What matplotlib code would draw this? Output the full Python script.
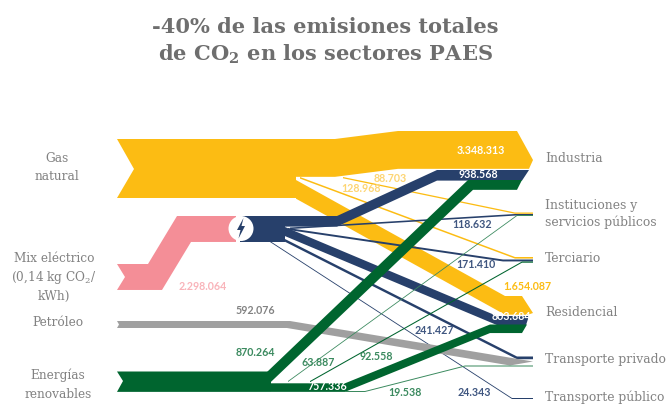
import matplotlib
matplotlib.use('Agg')
import matplotlib.pyplot as plt
from matplotlib.patches import Polygon, Circle

# values per source -> sector
sectors = ['Industria', 'Instituciones y\nservicios públicos', 'Terciario', 'Residencial',
           'Transporte privado', 'Transporte público']
gas = [3348313, 88703, 128968, 1654087]
mix = [938568, 118632, 171410, 803684, 241427, 24343]
petroleo = [592076]
renovables = [870264, 63887, 92558, 757336, 19538]
mix_total = 2298064

YELLOW = '#FCBC13'
PALE = '#FDD574'
PINK = '#F48E97'
NAVY = '#27406B'
NAVY_T = '#3F5680'
GREY = '#A0A0A0'
GREEN = '#00652F'
GREEN_T = '#3B8A5F'
TEXT = '#828282'
TITLE = '#6E6E6E'

px_per_unit = 11.3 / 1e6  # band thickness in pixels

plt.rcParams['mathtext.default'] = 'regular'

fig = plt.figure(figsize=(6.68, 4.05), dpi=100)
ax = fig.add_axes([0, 0, 1, 1])
ax.set_xlim(0, 668)
ax.set_ylim(405, 0)
ax.axis('off')


# route = (x, y, dx) on the upper edge, lower edge sits at (x + dx, y + width)
def band(value, route, color, tip=None, notch=None, min_width=0.0, zorder=2):
    w = max(value * px_per_unit, min_width)
    upper = [(x, y) for x, y, dx in route]
    lower = [(x + dx, y + w) for x, y, dx in route]
    pts = upper + (tip or []) + lower[::-1] + (notch or [])
    ax.add_patch(Polygon(pts, closed=True, facecolor=color, edgecolor='none', zorder=zorder))


# gas natural
band(sum(gas), [(117, 139, 0), (296, 139, 0)], YELLOW, notch=[(134, 169)])
band(gas[0], [(296, 139, 0), (335, 139, 0), (398, 131, 0), (517, 131, 12)], YELLOW, tip=[(533, 160)])
band(gas[1], [(343, 177, 0), (515, 212.5, 0), (533, 212.5, 0)], YELLOW, min_width=1.3)
band(gas[2], [(300, 177, 0), (515, 257, 0), (533, 257, 0)], YELLOW, min_width=1.6)
band(gas[3], [(296, 180, 0), (505, 296, 0), (522, 296, 6)], YELLOW, tip=[(533, 313)])

# mix electrico
band(mix_total, [(117, 264, 0), (148, 264, 14), (177, 216, 14), (236, 216, 0)], PINK, notch=[(125, 277)])
band(mix_total, [(240, 216, 0), (285, 216, 0)], NAVY, zorder=3)
band(mix[0], [(285, 216, 0), (337, 216, 0), (437, 170, 0), (529, 170, -7)], NAVY, zorder=3)
band(mix[1], [(290, 227.5, 0), (515, 214, 0), (533, 214, 0)], NAVY, min_width=1.6, zorder=3)
band(mix[2], [(288, 228, 0), (503, 259.5, 0), (533, 259.5, 0)], NAVY, zorder=3)
band(mix[3], [(285, 227, 0), (497, 316, 0), (529, 316, -3)], NAVY, zorder=3)
band(mix[4], [(283, 238, 0), (517, 356.5, 0), (533, 356.5, 0)], NAVY, zorder=3)
band(mix[5], [(270, 241, 0), (512, 398, 0), (533, 398, 0)], NAVY, min_width=1.0, zorder=3)

# petroleo
band(petroleo[0], [(117, 321, 0), (290, 321, -3), (515, 358.5, -5)], GREY,
     tip=[(533, 361.5)], notch=[(119, 324.5)], min_width=7.0, zorder=4)

# energias renovables
band(sum(renovables), [(117, 371.5, 0), (271, 371.5, 0)], GREEN, notch=[(123, 381)], zorder=5)
band(renovables[0], [(267, 372, 4), (468, 180, 5), (522, 180, -5)], GREEN, zorder=5)
band(renovables[1], [(288, 381, 0), (517, 215, 0), (533, 215, 0)], GREEN_T, min_width=1.0, zorder=5)
band(renovables[2], [(310, 381, 0), (522, 261.5, 0), (533, 261.5, 0)], GREEN, min_width=1.2, zorder=5)
band(renovables[3], [(271, 383.3, 0), (345, 383.3, 0), (490, 324.5, 0), (527, 324.5, -5)], GREEN, zorder=5)
band(renovables[4], [(345, 391, 0), (365, 391, 0), (465, 365.5, 0), (533, 365.5, 0)], GREEN_T,
     min_width=1.0, zorder=5)

# plug icon
ax.add_patch(Circle((241, 228.5), 12.5, facecolor='white', edgecolor='none', zorder=6))
ax.add_patch(Polygon([(243.5, 218), (237, 230), (240.5, 230), (238.5, 238.5), (245, 226), (241.5, 226)],
                     closed=True, facecolor=NAVY, edgecolor='none', zorder=7))

# title
ax.text(325, 27, '-40% de las emisiones totales', ha='center', va='center', fontsize=15.1,
        family='DejaVu Serif', fontweight='bold', color=TITLE)
ax.text(325, 54, 'de CO$_{2}$ en los sectores PAES', ha='center', va='center', fontsize=15.1,
        family='DejaVu Serif', fontweight='bold', color=TITLE)

# source labels
for txt, x, y in [('Gas', 57, 158), ('natural', 57, 177), ('Mix eléctrico', 54, 259),
                  ('(0,14 kg CO$_{2}$/', 54, 278), ('kWh)', 54, 296), ('Petróleo', 58, 323),
                  ('Energías', 58, 375), ('renovables', 58, 394)]:
    ax.text(x, y, txt, ha='center', va='center', fontsize=8.7, family='DejaVu Serif', color=TEXT)

# sector labels
for txt, y in zip(sectors, [159, 214, 259, 312, 359, 397]):
    ax.text(545, y, txt, ha='left', va='center', fontsize=8.9, family='DejaVu Serif',
            color=TEXT, linespacing=1.25, zorder=8)


def fmt(v):
    return f'{v:,}'.replace(',', '.')


# value labels
for v, x, y, col in [(gas[0], 481, 151, 'white'), (mix[0], 478, 175, 'white'), (gas[1], 390, 178, PALE),
                     (gas[2], 361, 189, PALE), (mix[1], 472, 225, NAVY_T), (mix[2], 476, 265, NAVY_T),
                     (gas[3], 527, 287, YELLOW), (mix[3], 511, 317, 'white'), (mix[4], 434, 330, NAVY_T),
                     (mix[5], 474, 393, NAVY_T), (mix_total, 203, 286, '#F9B4BA'), (petroleo[0], 255, 311, TEXT),
                     (renovables[0], 255, 353, GREEN_T), (renovables[1], 318, 362, GREEN_T),
                     (renovables[2], 376, 357, GREEN_T), (renovables[3], 327, 386, 'white'),
                     (renovables[4], 405, 393, GREEN_T)]:
    ax.text(x, y, fmt(v), ha='center', va='center', fontsize=7.7, family='Lato', fontweight='bold',
            color=col, zorder=8)

fig.savefig('out.png', dpi=100)
